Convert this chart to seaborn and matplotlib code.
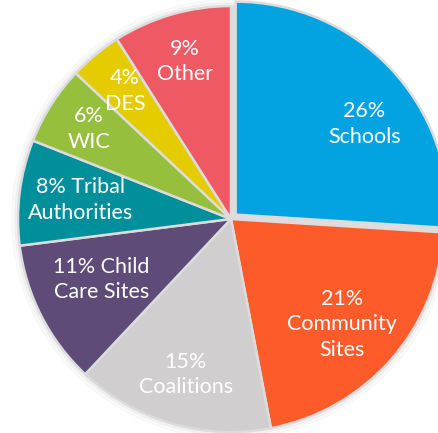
import numpy as np
import matplotlib
matplotlib.use("Agg")
import matplotlib.pyplot as plt
import seaborn as sns

# slice data, clockwise from 12 o'clock
categories = ["Schools", "Community Sites", "Coalitions", "Child Care Sites",
              "Tribal Authorities", "WIC", "DES", "Other"]
shares = [26, 21, 15, 11, 8, 6, 4, 9]
labels = ["26%\nSchools", "21%\nCommunity\nSites", "15%\nCoalitions",
          "11% Child\nCare Sites", "8% Tribal\nAuthorities", "6%\nWIC",
          "4%\nDES", "9%\nOther"]
colors = ["#03A3E2", "#FE5B2A", "#D0CECF", "#5E4B77",
          "#018F9C", "#97BF3E", "#E5CC00", "#EE5964"]

# label placement (fraction of radius, angle nudge in degrees)
label_r = [0.74, 0.72, 0.76, 0.67, 0.71, 0.79, 0.78, 0.77]
label_dang = [-8, -2, 0, -2, 0, 0, 0, 0]
explode = [0.03, 0, 0, 0, 0, 0, 0, 0]

sns.set_theme(style="white")
plt.rcParams['font.family'] = ['Lato', 'DejaVu Sans']

fig = plt.figure(figsize=(4.39, 4.33), dpi=100)
ax = fig.add_axes([0, 0, 1, 1])

# soft grey backdrop / shadow behind the pie
for r, a in [(1.03, 0.15), (1.015, 0.25), (1.0, 1.0)]:
    ax.add_patch(plt.Circle((0, 0), r, color="#dedede", alpha=a, zorder=0))

wedges, _ = ax.pie(shares, colors=colors, startangle=90, counterclock=False,
                   explode=explode,
                   wedgeprops=dict(edgecolor="#dcdcdc", linewidth=1.8))

for w, lab, r, da in zip(wedges, labels, label_r, label_dang):
    ang = np.deg2rad((w.theta1 + w.theta2) / 2 + da)
    cx, cy = w.center
    ax.text(cx + r * np.cos(ang), cy + r * np.sin(ang), lab,
            ha="center", va="center", color="white", fontsize=15.5,
            linespacing=1.35)

ax.set_xlim(-231 / 213, (439 - 231) / 213)
ax.set_ylim(-(433 - 219) / 213, 219 / 213)
ax.set_aspect("equal")
ax.axis("off")

fig.savefig("out.png", dpi=100)
